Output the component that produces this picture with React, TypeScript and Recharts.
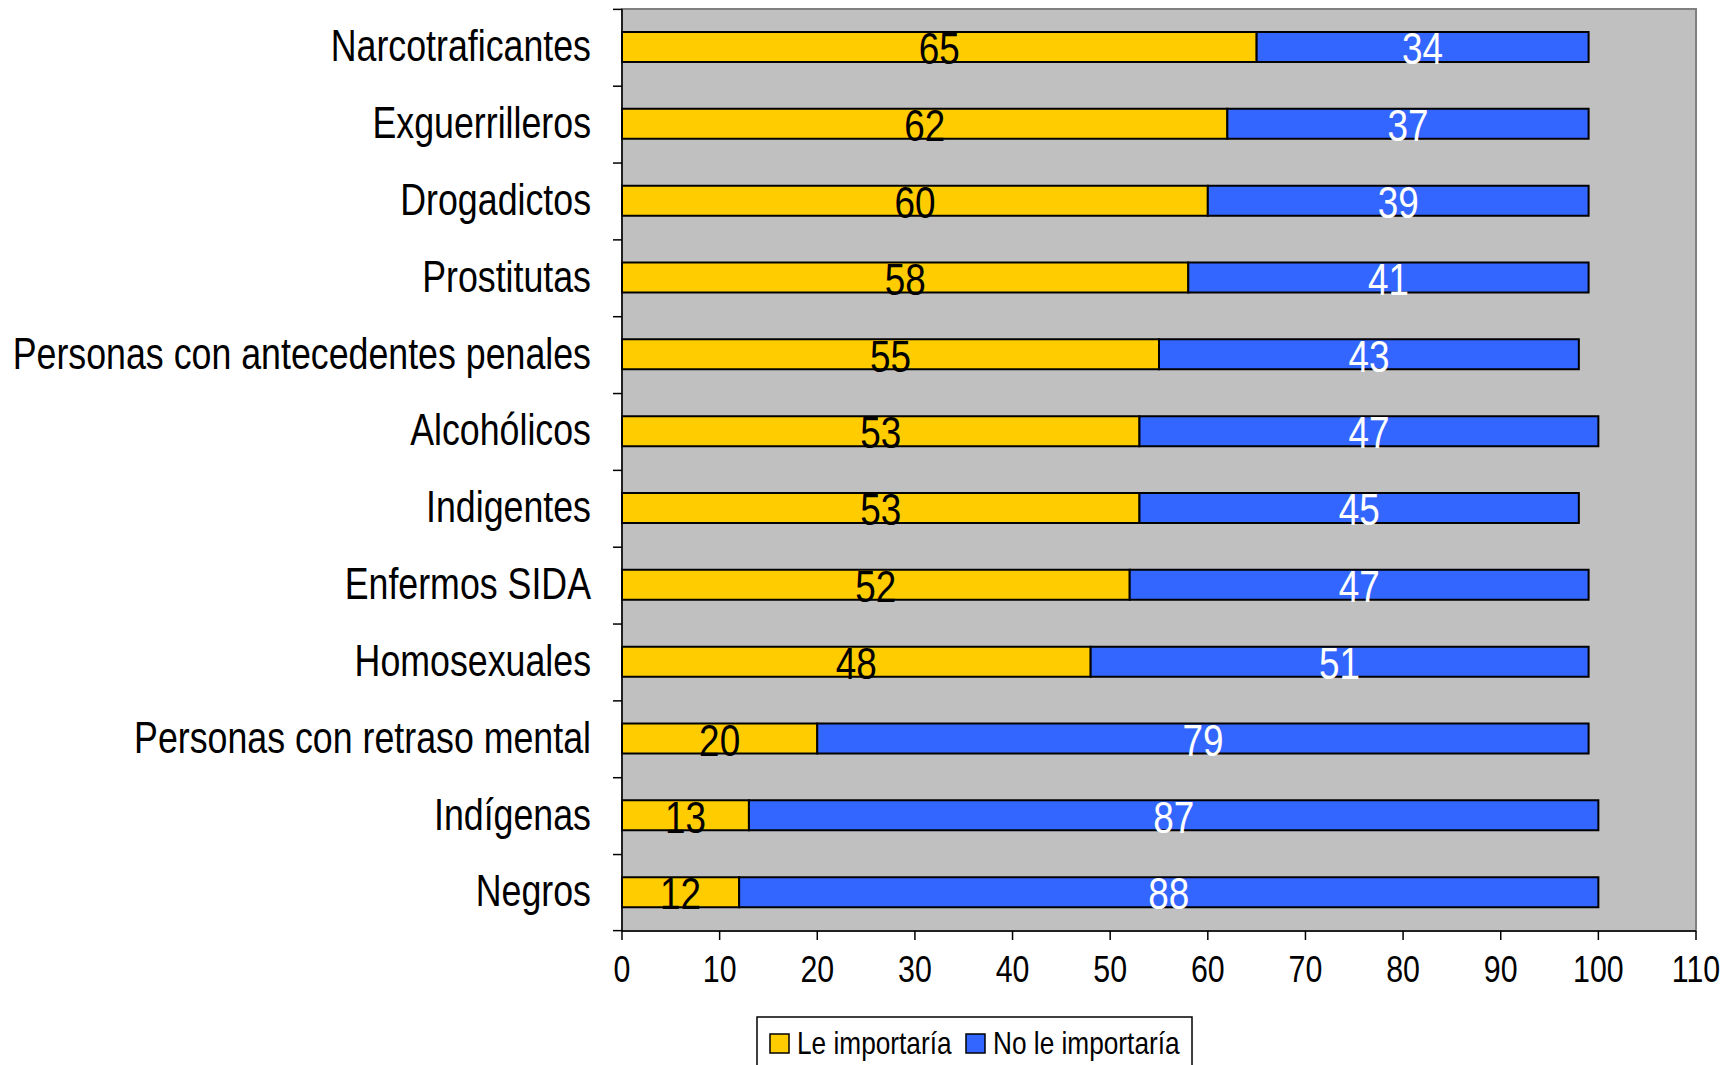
import React from "react";
import { BarChart, Bar, XAxis, YAxis, CartesianGrid, ReferenceArea, LabelList } from "recharts";

const categories = [
  "Narcotraficantes",
  "Exguerrilleros",
  "Drogadictos",
  "Prostitutas",
  "Personas con antecedentes penales",
  "Alcohólicos",
  "Indigentes",
  "Enfermos SIDA",
  "Homosexuales",
  "Personas con retraso mental",
  "Indígenas",
  "Negros",
];
const leImportaria = [65, 62, 60, 58, 55, 53, 53, 52, 48, 20, 13, 12];
const noLeImportaria = [34, 37, 39, 41, 43, 47, 45, 47, 51, 79, 87, 88];
const xTicks = [0, 10, 20, 30, 40, 50, 60, 70, 80, 90, 100, 110];
const seriesNames = ["Le importaría", "No le importaría"];
const seriesColors = ["#FFCC00", "#3366FF"];

// no Arial Narrow here, so squeeze Liberation Sans sideways
const FONT = "'Liberation Sans', Arial, sans-serif";
const NARROW = 0.82;
const W = 1731;
const H = 1065;
const TOP = 9;
const PLOT_BOTTOM = 922;
const BAND = (PLOT_BOTTOM - TOP) / categories.length;

const data = categories.map((name, i) => ({
  name,
  le: leImportaria[i],
  no: noLeImportaria[i],
}));

function NarrowText({ x, y, anchor, size, fill, dy, children }: any) {
  return (
    <text
      transform={`translate(${x},${y}) scale(${NARROW},1)`}
      x={0}
      y={0}
      dy={dy}
      textAnchor={anchor}
      fontSize={size}
      fill={fill}
      fontFamily={FONT}
    >
      {children}
    </text>
  );
}

function CategoryTick(props: any) {
  const { x, y, payload, index } = props;
  const top = y - BAND / 2;
  return (
    <g>
      <line x1={x - 9} x2={x} y1={top} y2={top} stroke="#000" strokeWidth={1.5} />
      {index === categories.length - 1 && (
        <line x1={x - 9} x2={x} y1={y + BAND / 2} y2={y + BAND / 2} stroke="#000" strokeWidth={1.5} />
      )}
      <NarrowText x={x - 31} y={y - 1} dy="0.34em" anchor="end" size={43.6} fill="#000">
        {payload.value}
      </NarrowText>
    </g>
  );
}

function ValueTick(props: any) {
  const { x, y, payload } = props;
  return (
    <NarrowText x={x} y={y} dy="0.71em" anchor="middle" size={37} fill="#000">
      {payload.value}
    </NarrowText>
  );
}

function barLabel(color: string) {
  return (props: any) => {
    const { x, y, width, height, value } = props;
    return (
      <NarrowText x={x + width / 2} y={y + height / 2 + 1} dy="0.36em" anchor="middle" size={45} fill={color}>
        {value}
      </NarrowText>
    );
  };
}

export default function App() {
  return (
    <div style={{ position: "absolute", left: 0, top: 0, width: W, height: H, background: "#fff" }}>
      <BarChart
        width={W}
        height={H}
        data={data}
        layout="vertical"
        margin={{ top: TOP, right: 35, left: 0, bottom: 0 }}
        barSize={30}
      >
        <CartesianGrid horizontal={false} vertical={false} fill="#C0C0C0" />
        <ReferenceArea x1={0} x2={110} fill="none" stroke="#808080" strokeWidth={2} ifOverflow="visible" />
        <XAxis
          type="number"
          domain={[0, 110]}
          ticks={xTicks}
          height={H - PLOT_BOTTOM - TOP}
          tickSize={9}
          tickMargin={16}
          stroke="#000"
          strokeWidth={1.5}
          tick={<ValueTick />}
          interval={0}
        />
        <YAxis
          type="category"
          dataKey="name"
          width={622}
          tickSize={0}
          tickMargin={0}
          tickLine={false}
          stroke="#000"
          strokeWidth={1.5}
          interval={0}
          tick={<CategoryTick />}
        />
        <Bar dataKey="le" stackId="a" fill={seriesColors[0]} stroke="#000" strokeWidth={2} isAnimationActive={false}>
          <LabelList dataKey="le" content={barLabel("#000")} />
        </Bar>
        <Bar dataKey="no" stackId="a" fill={seriesColors[1]} stroke="#000" strokeWidth={2} isAnimationActive={false}>
          <LabelList dataKey="no" content={barLabel("#fff")} />
        </Bar>
      </BarChart>
      <svg
        width={437}
        height={50}
        style={{ position: "absolute", left: 756, top: 1016 }}
      >
        <rect x={1} y={1} width={435} height={60} fill="#fff" stroke="#000" strokeWidth={1.5} />
        {seriesNames.map((n, i) => {
          const x0 = i === 0 ? 14 : 210;
          return (
            <g key={n}>
              <rect x={x0} y={18} width={19} height={19} fill={seriesColors[i]} stroke="#000" strokeWidth={1.5} />
              <NarrowText x={x0 + 27} y={38} anchor="start" size={32} fill="#000">
                {n}
              </NarrowText>
            </g>
          );
        })}
      </svg>
    </div>
  );
}
